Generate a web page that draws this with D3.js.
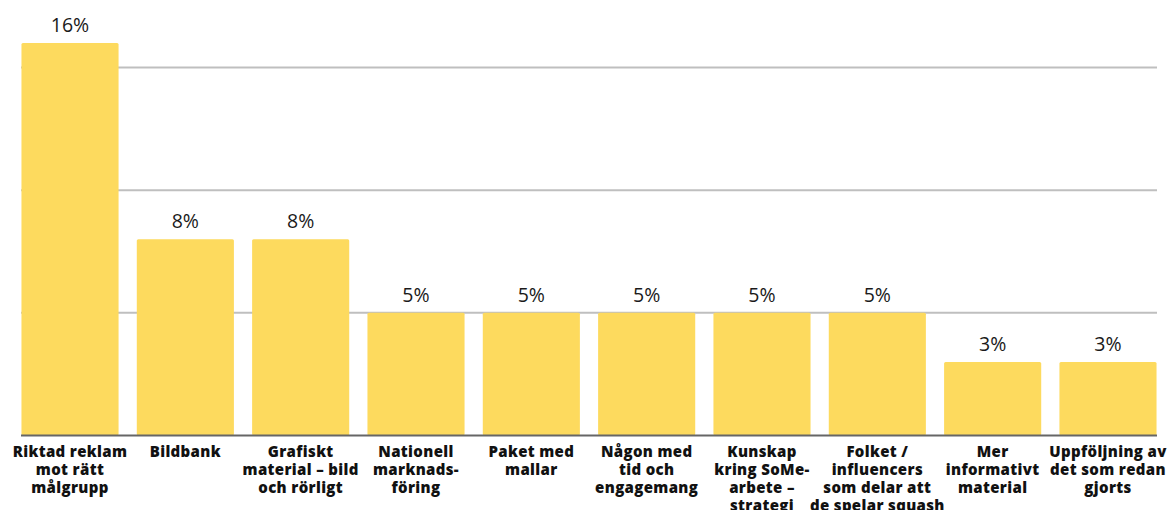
<!DOCTYPE html>
<html>
<head>
<meta charset="utf-8">
<script src="https://cdn.jsdelivr.net/npm/d3@7"></script>
<style>
  html, body { margin: 0; padding: 0; background: #ffffff; }
  svg { display: block; }
</style>
</head>
<body>
<svg id="chart" width="1171" height="510"></svg>
<script>
// ---- Data ----
const categories = [
  "Riktad reklam mot rätt målgrupp",
  "Bildbank",
  "Grafiskt material – bild och rörligt",
  "Nationell marknadsföring",
  "Paket med mallar",
  "Någon med tid och engagemang",
  "Kunskap kring SoMe-arbete – strategi",
  "Folket / influencers som delar att de spelar squash",
  "Mer informativt material",
  "Uppföljning av det som redan gjorts"
];
const values = [16, 8, 8, 5, 5, 5, 5, 5, 3, 3];
const valueLabels = ["16%", "8%", "8%", "5%", "5%", "5%", "5%", "5%", "3%", "3%"];
const categoryLines = [
  ["Riktad reklam", "mot rätt", "målgrupp"],
  ["Bildbank"],
  ["Grafiskt", "material – bild", "och rörligt"],
  ["Nationell", "marknads-", "föring"],
  ["Paket med", "mallar"],
  ["Någon med", "tid och", "engagemang"],
  ["Kunskap", "kring SoMe-", "arbete –", "strategi"],
  ["Folket /", "influencers", "som delar att", "de spelar squash"],
  ["Mer", "informativt", "material"],
  ["Uppföljning av", "det som redan", "gjorts"]
];
const gridTicks = [5, 10, 15];

// ---- Layout ----
const svg = d3.select("#chart");
const x = d3.scaleBand()
  .domain(categories)
  .range([21, 1157])
  .paddingInner(0.158)
  .paddingOuter(0.004);
const y = d3.scaleLinear().domain([0, 15]).range([435.5, 67.5]);

// gridlines
svg.append("g")
  .selectAll("line")
  .data(gridTicks)
  .join("line")
  .attr("x1", 21).attr("x2", 1157)
  .attr("y1", d => y(d)).attr("y2", d => y(d))
  .attr("stroke", "#bfbfbf")
  .attr("stroke-width", 2);

// bars
svg.append("g")
  .selectAll("rect")
  .data(values)
  .join("rect")
  .attr("x", (d, i) => x(categories[i]))
  .attr("width", x.bandwidth())
  .attr("y", d => y(d))
  .attr("height", d => y(0) - y(d))
  .attr("rx", 1.5)
  .attr("fill", "#fdda5e");

// baseline
svg.append("line")
  .attr("x1", 21).attr("x2", 1157)
  .attr("y1", y(0)).attr("y2", y(0))
  .attr("stroke", "#666666")
  .attr("stroke-width", 2);

// value labels
svg.append("g")
  .selectAll("text")
  .data(values)
  .join("text")
  .attr("x", (d, i) => x(categories[i]) + x.bandwidth() / 2)
  .attr("y", d => y(d) - 11)
  .attr("text-anchor", "middle")
  .attr("font-family", "'Open Sans', sans-serif")
  .attr("font-size", 19.5)
  .attr("fill", "#1a1a1a")
  .text((d, i) => valueLabels[i]);

// category labels
const lab = svg.append("g")
  .selectAll("text")
  .data(categoryLines)
  .join("text")
  .attr("x", (d, i) => x(categories[i]) + x.bandwidth() / 2)
  .attr("y", 456.8)
  .attr("text-anchor", "middle")
  .attr("font-family", "'Open Sans', sans-serif")
  .attr("font-weight", 800)
  .attr("font-size", 15)
  .attr("letter-spacing", 0.35)
  .attr("fill", "#111111");
lab.selectAll("tspan")
  .data(d => d)
  .join("tspan")
  .attr("x", function() { return this.parentNode.getAttribute("x"); })
  .attr("dy", (d, i) => i === 0 ? 0 : 17.9)
  .text(d => d);
</script>
</body>
</html>
